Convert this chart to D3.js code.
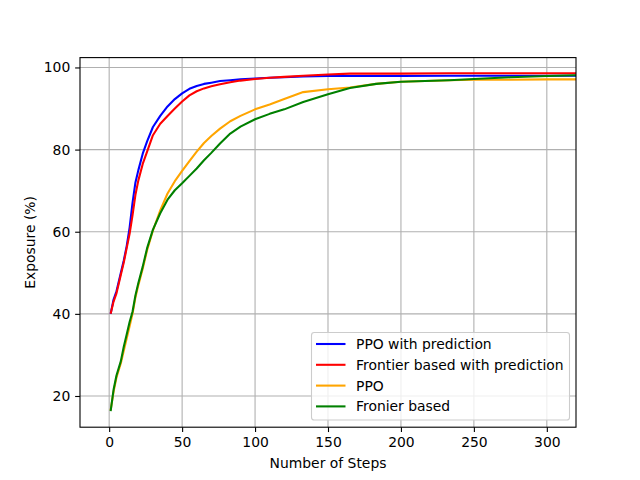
<!DOCTYPE html>
<html>
<head>
<meta charset="utf-8">
<script src="https://cdn.jsdelivr.net/npm/d3@7"></script>
<style>
  body { margin: 0; background: #fff; }
  svg { display: block; font-family: "DejaVu Sans", sans-serif; }
</style>
</head>
<body>
<svg id="canvas" width="640" height="480"></svg>
<script>
const svg = d3.select("#canvas");
const width = 640;
const height = 480;

// data
const steps = [1, 3, 5, 8, 10, 12, 14, 16, 18, 20, 23, 26, 30, 35, 40, 45, 50, 55, 60, 65, 70, 76, 83, 90, 100, 110, 120, 133, 150, 165, 183, 200, 233, 250, 275, 300, 320];

const ppoPred = [40, 43.5, 45.5, 50, 53, 56.5, 61, 67, 72, 75, 79, 82, 85.5, 88.2, 90.5, 92.3, 93.7, 94.8, 95.5, 96.0, 96.3, 96.7, 96.9, 97.1, 97.3, 97.5, 97.6, 97.8, 97.9, 97.9, 97.9, 97.9, 98.0, 98.0, 98.0, 98.0, 98.0];
const frontierPred = [40, 43, 45, 49.5, 52.5, 56, 59.5, 64, 69, 72.5, 76.5, 79.5, 83.5, 86.3, 88.2, 90, 91.7, 93.2, 94.2, 94.9, 95.4, 95.9, 96.4, 96.8, 97.2, 97.5, 97.7, 98.0, 98.3, 98.5, 98.5, 98.5, 98.6, 98.6, 98.6, 98.6, 98.6];
const ppo = [16.5, 21, 24.5, 28, 31, 34, 37, 40, 44, 47, 51, 55.5, 60.3, 65.2, 69.3, 72.3, 74.8, 77.2, 79.5, 81.6, 83.3, 85.1, 86.9, 88.2, 89.8, 91, 92.3, 94, 94.7, 95.1, 96, 96.5, 96.9, 97, 97, 97.1, 97.1];
const frontier = [16.3, 21.5, 25, 28.5, 32, 35, 38, 40.5, 44.5, 47.5, 51.5, 56, 60.5, 64.5, 67.8, 70.1, 71.8, 73.6, 75.4, 77.4, 79.2, 81.5, 83.9, 85.6, 87.4, 88.7, 89.8, 91.6, 93.5, 95, 96, 96.5, 96.9, 97.2, 97.6, 97.9, 98.1];

const seriesNames = ["PPO with prediction", "Frontier based with prediction", "PPO", "Fronier based"];
const seriesValues = [ppoPred, frontierPred, ppo, frontier];
const seriesColors = ["blue", "red", "orange", "green"];

const xTicks = [0, 50, 100, 150, 200, 250, 300];
const yTicks = [20, 40, 60, 80, 100];

const margin = { left: 80, right: 576, top: 57.6, bottom: 427.2 };

const x = d3.scaleLinear().domain([-20, 320]).range([margin.left, margin.right]);
const y = d3.scaleLinear().domain([12.4, 102.4]).range([margin.bottom, margin.top]);

// grid
svg.append("g")
    .selectAll("line")
    .data(xTicks)
    .enter()
    .append("line")
    .attr("x1", d => x(d))
    .attr("x2", d => x(d))
    .attr("y1", margin.top)
    .attr("y2", margin.bottom)
    .attr("stroke", "#b0b0b0")
    .attr("stroke-width", 1.1);

svg.append("g")
    .selectAll("line")
    .data(yTicks)
    .enter()
    .append("line")
    .attr("x1", margin.left)
    .attr("x2", margin.right)
    .attr("y1", d => y(d))
    .attr("y2", d => y(d))
    .attr("stroke", "#b0b0b0")
    .attr("stroke-width", 1.1);

// lines
svg.append("defs").append("clipPath")
    .attr("id", "plotClip")
    .append("rect")
    .attr("x", margin.left)
    .attr("y", margin.top)
    .attr("width", margin.right - margin.left)
    .attr("height", margin.bottom - margin.top);

const line = d3.line()
    .x((d, i) => x(steps[i]))
    .y(d => y(d));

const plot = svg.append("g").attr("clip-path", "url(#plotClip)");
seriesValues.forEach((vals, k) => {
    plot.append("path")
        .attr("d", line(vals))
        .attr("fill", "none")
        .attr("stroke", seriesColors[k])
        .attr("stroke-width", 2.08)
        .attr("stroke-linejoin", "round");
});

// axes
const xAxis = d3.axisBottom(x).tickValues(xTicks).tickSize(4.86).tickPadding(4.86);
const yAxis = d3.axisLeft(y).tickValues(yTicks).tickSize(4.86).tickPadding(4.86);

const gx = svg.append("g")
    .attr("transform", `translate(0,${margin.bottom})`)
    .call(xAxis);
const gy = svg.append("g")
    .attr("transform", `translate(${margin.left},0)`)
    .call(yAxis);

[gx, gy].forEach(g => {
    g.select(".domain").remove();
    g.selectAll(".tick line").attr("stroke", "black").attr("stroke-width", 1.1);
    g.selectAll(".tick text")
        .attr("font-size", "13.9px")
        .attr("font-family", "DejaVu Sans")
        .attr("fill", "black");
});

svg.append("rect")
    .attr("x", margin.left)
    .attr("y", margin.top)
    .attr("width", margin.right - margin.left)
    .attr("height", margin.bottom - margin.top)
    .attr("fill", "none")
    .attr("stroke", "black")
    .attr("stroke-width", 1.1);

svg.append("text")
    .attr("x", (margin.left + margin.right) / 2)
    .attr("y", 468)
    .attr("text-anchor", "middle")
    .attr("font-size", "13.9px")
    .text("Number of Steps");

svg.append("text")
    .attr("transform", `translate(35,${(margin.top + margin.bottom) / 2}) rotate(-90)`)
    .attr("text-anchor", "middle")
    .attr("font-size", "13.9px")
    .text("Exposure (%)");

// legend
const legend = svg.append("g");
legend.append("rect")
    .attr("x", 311.5)
    .attr("y", 332.5)
    .attr("width", 258)
    .attr("height", 87.5)
    .attr("rx", 2.8)
    .attr("fill", "white")
    .attr("fill-opacity", 0.8)
    .attr("stroke", "#cccccc")
    .attr("stroke-width", 1.1);

seriesNames.forEach((name, i) => {
    const ly = 344 + i * 20.8;
    legend.append("line")
        .attr("x1", 316)
        .attr("x2", 345.5)
        .attr("y1", ly)
        .attr("y2", ly)
        .attr("stroke", seriesColors[i])
        .attr("stroke-width", 2.08);
    legend.append("text")
        .attr("x", 356)
        .attr("y", ly + 5)
        .attr("font-size", "13.9px")
        .attr("fill", "black")
        .text(name);
});
</script>
</body>
</html>
